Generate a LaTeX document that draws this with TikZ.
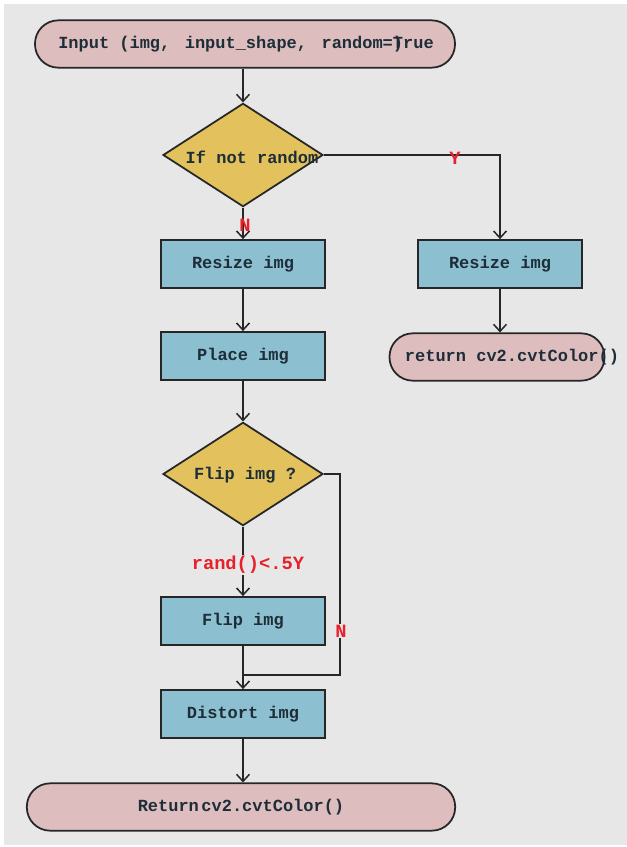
\documentclass[tikz,border=0pt]{standalone}
\usepackage{fontspec}
\setmonofont{Liberation Mono}
\usetikzlibrary{arrows.meta,shapes.geometric}
\definecolor{bgc}{HTML}{E7E7E7}
\definecolor{termc}{HTML}{DDBDBE}
\definecolor{procc}{HTML}{8CBFCF}
\definecolor{decc}{HTML}{E3C25E}
\definecolor{txtc}{HTML}{1E2E38}
\definecolor{redc}{HTML}{E8202A}
\tikzset{
  base/.style={draw=black!85, line width=1.5pt, font=\ttfamily\bfseries\fontsize{14.5pt}{16pt}\selectfont, text=txtc, inner sep=0pt},
  term/.style={base, fill=termc, rounded corners=0.7cm, minimum height=1.42cm},
  proc/.style={base, fill=procc, minimum width=4.92cm, minimum height=1.44cm},
  dec/.style={base, fill=decc, diamond, minimum width=4.8cm, minimum height=3.1cm},
  lbl/.style={font=\ttfamily\bfseries\fontsize{14.5pt}{16pt}\selectfont, text=txtc, inner sep=0pt},
  rlbl/.style={font=\ttfamily\bfseries\fontsize{16pt}{18pt}\selectfont, text=redc, inner sep=1pt},
  conn/.style={draw=black!85, line width=1.4pt},
  arr/.style={conn, -{Straight Barb[length=6pt,width=11pt,line width=1.3pt]}}
}
\begin{document}
\begin{tikzpicture}[x=0.03cm,y=-0.03cm]
\useasboundingbox (0,0) rectangle (627,847);
\fill[white] (0,0) rectangle (627,847);
\fill[bgc] (4,4) rectangle (627,845);

% nodes
\node[term, minimum width=12.6cm] (inp) at (245,44) {};
\node[lbl] (inpt) at (246,44) {Input (img,\hspace{0.25em} input\_shape,\hspace{0.25em} random=T\makebox[0pt][r]{)}rue};

\node[dec] (d1) at (243,155) {};
\node[lbl] (d1t) at (252,157) {If not random};

\node[proc] (r1) at (243,264) {Resize img};
\node[proc] (pl) at (243,356) {Place img};

\node[proc] (r2) at (500,264) {Resize img};
\node[term, minimum width=6.45cm] (ret1) at (497,357) {};
\node[lbl] (ret1t) at (512,357) {return cv2.cvtColor()};

\node[dec] (d2) at (243,474) {};
\node[lbl] (d2t) at (245,475) {Flip img ?};

\node[proc] (fl) at (243,621) {Flip img};
\node[proc] (di) at (243,714) {Distort img};

\node[term, minimum width=12.85cm] (ret2) at (241,807) {};
\node[lbl] (ret2t) at (241,807) {Return\hspace{0.15em}cv2.cvtColor()};

% connectors
\draw[arr] (d1.north |- inp.south) -- (d1.north);
\coordinate (c1) at (500,155);
\draw[arr] (d1.east) -- (c1) -- (r2.north);
\draw[arr] (d1.south) -- (r1.north);
\draw[arr] (r1) -- (pl);
\draw[arr] (r2.south) -- (r2.south |- ret1.north);
\draw[arr] (pl.south) -- (d2.north);
\draw[arr] (d2.south) -- (fl.north);
\coordinate (c2) at (340,474);
\coordinate (c3) at (340,675);
\coordinate (c4) at (243,675);
\draw[conn] (d2.east) -- (c2) -- (c3) -- (c4);
\draw[arr] (fl.south) -- (di.north);
\draw[arr] (di.south) -- (di.south |- ret2.north);

% labels
\node[rlbl] (ly) at (455,158) {Y};
\node[rlbl] (ln) at (245,225) {N};
\node[rlbl, fill=bgc] (ln2) at (341,631) {N};
\node[rlbl, fill=bgc] (lr) at (248,565) {rand()<.5Y};
\end{tikzpicture}
\end{document}
